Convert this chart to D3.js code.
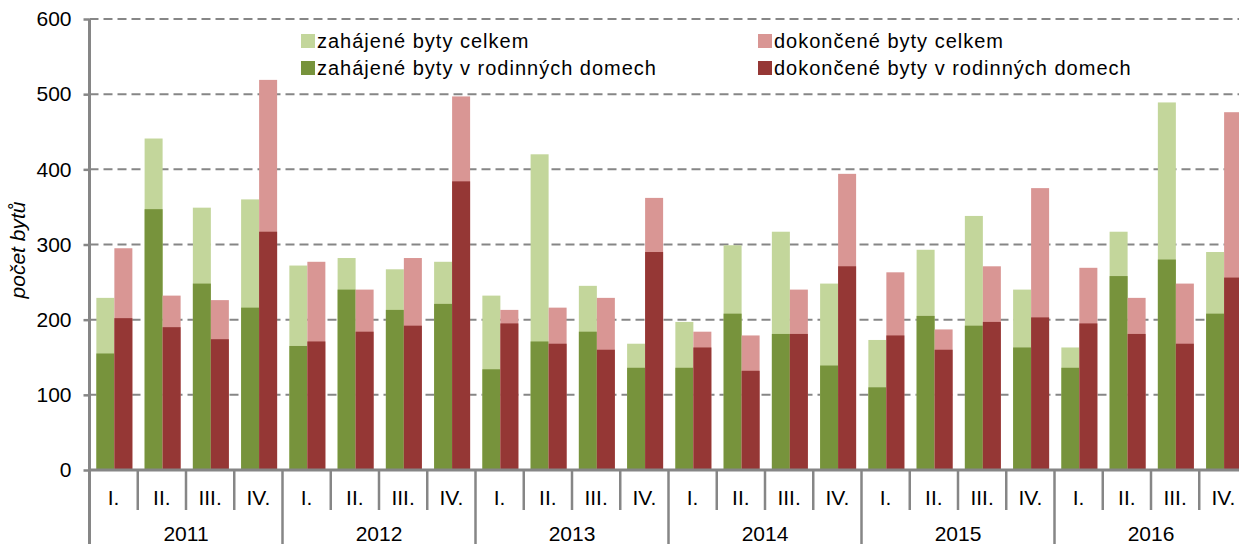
<!DOCTYPE html>
<html>
<head>
<meta charset="utf-8">
<script src="https://cdn.jsdelivr.net/npm/d3@7"></script>
<style>
  html, body { margin: 0; padding: 0; background: #fff; }
  svg { display: block; }
  text { font-family: "Liberation Sans", Arial, sans-serif; fill: #000; }
</style>
</head>
<body>
<svg id="chart" width="1239" height="544"></svg>
<script>
const years = ["2011", "2012", "2013", "2014", "2015", "2016"];
const quarters = ["I.", "II.", "III.", "IV."];
const yTicks = [0, 100, 200, 300, 400, 500, 600];

const seriesNames = [
  "zahájené byty celkem",
  "zahájené byty v rodinných domech",
  "dokončené byty celkem",
  "dokončené byty v rodinných domech"
];

const zahajeneCelkem = [229, 441, 349, 360, 272, 282, 267, 277, 232, 420, 245, 168,
                        197, 299, 317, 248, 173, 293, 338, 240, 163, 317, 489, 290];
const zahajeneRD     = [155, 347, 248, 216, 165, 240, 213, 221, 134, 171, 184, 136,
                        136, 208, 181, 139, 110, 205, 192, 163, 136, 258, 280, 208];
const dokonceneCelkem = [295, 232, 226, 519, 277, 240, 282, 497, 213, 216, 229, 362,
                         184, 179, 240, 394, 263, 187, 271, 375, 269, 229, 248, 476];
const dokonceneRD     = [202, 190, 174, 317, 171, 184, 192, 384, 195, 168, 160, 290,
                         163, 132, 181, 271, 179, 160, 197, 203, 195, 181, 168, 256];

const colors = {
  zahCelkem: "#c3d69b",
  zahRD: "#77933c",
  dokCelkem: "#d99694",
  dokRD: "#953735",
  axis: "#868686"
};

(function () {
const svg = d3.select("#chart");
const pLeft = 89.5, pRight = 1247.5, pTop = 19, pBottom = 470;

const cats = [];
years.forEach(yr => quarters.forEach(q => cats.push(yr + "-" + q)));

const x = d3.scaleBand().domain(cats).range([pLeft, pRight]).padding(0);
const y = d3.scaleLinear().domain([0, 600]).range([pBottom, pTop]);
const inner = d3.scaleBand().domain(["zah", "dok"]).range([0, x.bandwidth()])
  .paddingInner(0).paddingOuter(0.34).align(0.56);

// gridlines
svg.append("g").selectAll("line").data(yTicks.filter(d => d > 0)).join("line")
  .attr("x1", pLeft).attr("x2", 1239)
  .attr("y1", d => y(d)).attr("y2", d => y(d))
  .attr("stroke", colors.axis).attr("stroke-width", 2)
  .attr("stroke-dasharray", "9,5");

// bars
const rows = cats.map((c, i) => ({
  c, zc: zahajeneCelkem[i], zr: zahajeneRD[i], dc: dokonceneCelkem[i], dr: dokonceneRD[i]
}));
const bars = svg.append("g");
function drawBars(key, valKey, color) {
  bars.append("g").selectAll("rect").data(rows).join("rect")
    .attr("x", d => x(d.c) + inner(key))
    .attr("width", inner.bandwidth())
    .attr("y", d => y(d[valKey]))
    .attr("height", d => y(0) - y(d[valKey]))
    .attr("fill", color);
}
drawBars("zah", "zc", colors.zahCelkem);
drawBars("zah", "zr", colors.zahRD);
drawBars("dok", "dc", colors.dokCelkem);
drawBars("dok", "dr", colors.dokRD);

// y axis
const yAxis = d3.axisLeft(y).tickValues(yTicks).tickSize(6).tickPadding(12);
const ya = svg.append("g").attr("transform", `translate(${pLeft},0)`).call(yAxis);
ya.select(".domain").remove();
ya.selectAll(".tick line").attr("stroke", colors.axis).attr("stroke-width", 2.5);
ya.selectAll(".tick text").attr("font-size", 21).attr("font-family", "Liberation Sans, Arial, sans-serif").attr("fill", "#000");
svg.append("line").attr("x1", pLeft).attr("x2", pLeft).attr("y1", pTop).attr("y2", 544)
  .attr("stroke", colors.axis).attr("stroke-width", 3);

// x axis line
svg.append("line").attr("x1", pLeft).attr("x2", 1239).attr("y1", pBottom).attr("y2", pBottom)
  .attr("stroke", colors.axis).attr("stroke-width", 3);

// category separators
const xg = svg.append("g");
xg.selectAll("line.q").data(cats.slice(1)).join("line")
  .attr("x1", d => x(d)).attr("x2", d => x(d))
  .attr("y1", pBottom).attr("y2", (d, i) => ((i + 1) % 4 === 0) ? 544 : 510)
  .attr("stroke", colors.axis).attr("stroke-width", 2.5);

// quarter labels
xg.selectAll("text.q").data(cats).join("text")
  .attr("x", d => x(d) + x.bandwidth() / 2)
  .attr("y", 498)
  .attr("dy", "0.35em")
  .attr("text-anchor", "middle")
  .attr("font-size", 21)
  .text(d => d.split("-")[1]);

// year labels
xg.selectAll("text.y").data(years).join("text")
  .attr("x", d => x(d + "-I.") + x.bandwidth() * 2)
  .attr("y", 534)
  .attr("dy", "0.35em")
  .attr("text-anchor", "middle")
  .attr("font-size", 21)
  .text(d => d);

// y axis title
svg.append("text")
  .attr("transform", `translate(25,250) rotate(-90)`)
  .attr("text-anchor", "middle")
  .attr("font-size", 21)
  .attr("font-style", "italic")
  .text("počet bytů");

// legend
const legendItems = [
  { name: seriesNames[0], color: colors.zahCelkem, x: 301, y: 41 },
  { name: seriesNames[1], color: colors.zahRD, x: 301, y: 68 },
  { name: seriesNames[2], color: colors.dokCelkem, x: 758, y: 41 },
  { name: seriesNames[3], color: colors.dokRD, x: 758, y: 68 }
];
const lg = svg.append("g").selectAll("g").data(legendItems).join("g")
  .attr("transform", d => `translate(${d.x},${d.y})`);
lg.append("rect").attr("x", 0).attr("y", -7).attr("width", 14).attr("height", 14).attr("fill", d => d.color);
lg.append("text").attr("x", 16).attr("y", 0).attr("dy", "0.35em")
  .attr("font-size", 20).attr("letter-spacing", 1).text(d => d.name);
})();
</script>
</body>
</html>
